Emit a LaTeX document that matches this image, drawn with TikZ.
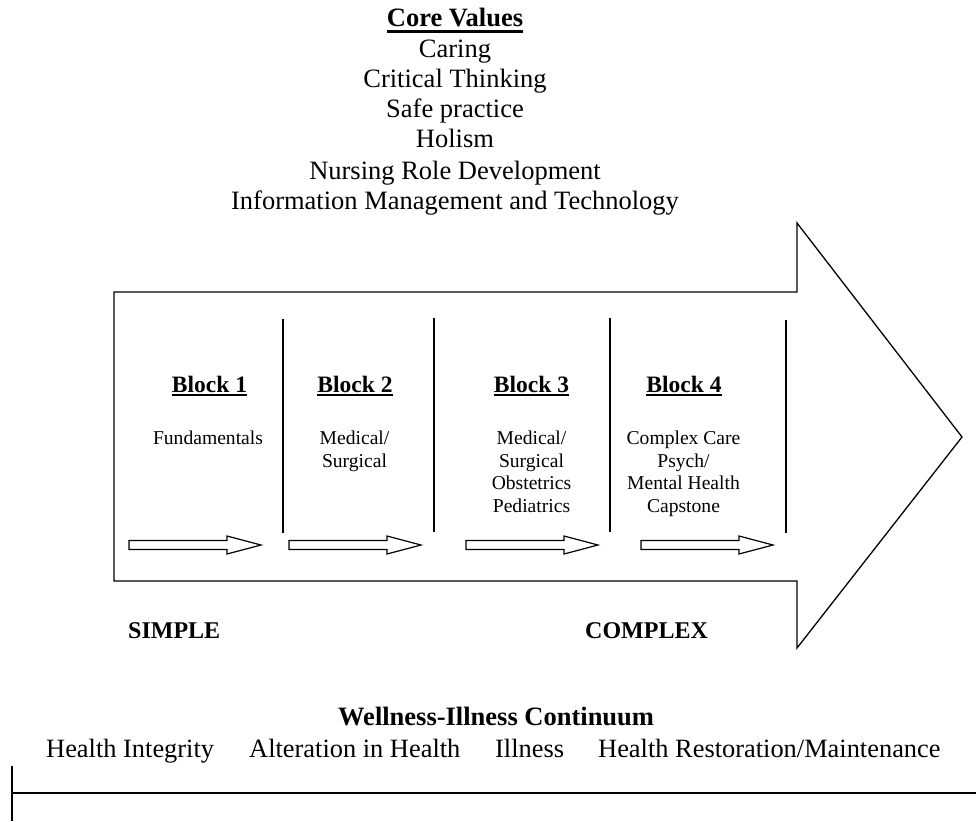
\documentclass[tikz,border=0pt]{standalone}
\usepackage{fontspec}
\setmainfont{Liberation Serif}
\usetikzlibrary{calc}
\begin{document}
\begin{tikzpicture}[x=1pt,y=-1pt,
  txt/.style={inner sep=0pt, anchor=base},
  cv/.style={txt, font=\fontsize{26.5}{30}\selectfont},
  cvh/.style={txt, font=\fontsize{26.5}{30}\selectfont\bfseries},
  hd/.style={txt, font=\fontsize{23.5}{28}\selectfont\bfseries},
  bt/.style={txt, font=\fontsize{19.6}{22.7}\selectfont},
  sc/.style={txt, anchor=base west, font=\fontsize{24}{28}\selectfont\bfseries},
  wl/.style={txt, anchor=base west, font=\fontsize{26.4}{30}\selectfont},
  wlh/.style={txt, anchor=base west, font=\fontsize{26.5}{30}\selectfont\bfseries},
  ul/.style={line width=1.8pt},
  outline/.style={draw, line width=1.3pt, line join=miter},
  divider/.style={line width=1.5pt},
  sarrow/.style={draw, line width=1.2pt, line join=miter}
]
\useasboundingbox (0,0) rectangle (976,821);

% Core values
\node[cvh] (cvt) at (455,27) {Core Values};
\draw[line width=2.4pt] ($(cvt.base west)+(0,4.5)$) -- ($(cvt.base east)+(0,4.5)$);
\node[cv] (cv1) at (455,58) {Caring};
\node[cv] (cv2) at (455,88) {Critical Thinking};
\node[cv] (cv3) at (455,118) {Safe practice};
\node[cv] (cv4) at (455,148) {Holism};
\node[cv] (cv5) at (455,179) {Nursing Role Development};
\node[cv] (cv6) at (455,209) {Information Management and Technology};

% big arrow
\draw[outline] (114,292) -- (797,292) -- (797,223) -- (962,437) -- (797,648) -- (797,581) -- (114,581) -- cycle;

% dividers
\draw[divider] (283,319) -- (283,533);
\draw[divider] (434,318) -- (434,532);
\draw[divider] (610,318) -- (610,532);
\draw[divider] (786,320) -- (786,533);

% block headers
\node[hd] (b1) at (209.5,392) {Block 1};
\node[hd] (b2) at (355,392) {Block 2};
\node[hd] (b3) at (531.5,392) {Block 3};
\node[hd] (b4) at (684,392) {Block 4};
\foreach \b in {b1,b2,b3,b4}
  \draw[ul] ($(\b.base west)+(0,2.6)$) -- ($(\b.base east)+(0,2.6)$);

% block texts
\node[bt] (t11) at (208,444) {Fundamentals};
\node[bt] (t21) at (354.5,444) {Medical/};
\node[bt] (t22) at (354.5,467) {Surgical};
\node[bt] (t31) at (531.5,444) {Medical/};
\node[bt] (t32) at (531.5,467) {Surgical};
\node[bt] (t33) at (531.5,489.5) {Obstetrics};
\node[bt] (t34) at (531.5,512) {Pediatrics};
\node[bt] (t41) at (683.5,444) {Complex Care};
\node[bt] (t42) at (683.5,467) {Psych/};
\node[bt] (t43) at (683.5,489.5) {Mental Health};
\node[bt] (t44) at (683.5,512) {Capstone};

% small arrows
\foreach \x in {129,289,466,641}
  \draw[sarrow] (\x,540.5) -- ++(98,0) -- ++(0,-4.5) -- ++(34,9) -- ++(-34,9) -- ++(0,-4.5) -- ++(-98,0) -- cycle;

% simple / complex
\node[sc] (simple) at (128,638) {SIMPLE};
\node[sc] (complex) at (585,638) {COMPLEX};

% continuum
\node[wlh] (wic) at (338,725) {Wellness-Illness Continuum};
\node[wl] (h1) at (46,757) {Health Integrity};
\node[wl] (h2) at (249,757) {Alteration in Health};
\node[wl] (h3) at (495,757) {Illness};
\node[wl] (h4) at (598,757) {Health Restoration/Maintenance};

\coordinate (ls) at (12,793);
\coordinate (le) at (976,793);
\coordinate (ts) at (12,766);
\coordinate (te) at (12,821);
\draw[line width=2pt] (ls) -- (le);
\draw[line width=1.3pt] (ts) -- (te);
\end{tikzpicture}
\end{document}
